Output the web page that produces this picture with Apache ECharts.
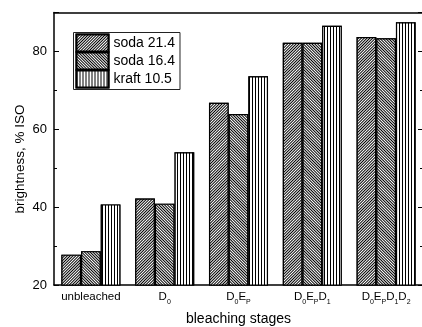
<!DOCTYPE html>
<html>
<head>
<meta charset="utf-8">
<script src="https://cdn.jsdelivr.net/npm/echarts@6/dist/echarts.min.js"></script>
<style>
  html, body { margin: 0; padding: 0; background: #fff; }
  #chart { width: 422px; height: 327px; }
</style>
</head>
<body>
<div id="chart"></div>
<script>
// Bleaching stages (underscore marks a subscript character)
const stages = ['unbleached', 'D_0', 'D_0E_P', 'D_0E_PD_1', 'D_0E_PD_1D_2'];
// Brightness, % ISO
const soda214 = [27.8, 42.2, 66.8, 82.2, 83.7];
const soda164 = [28.7, 40.9, 63.9, 82.2, 83.4];
const kraft105 = [40.7, 54.1, 73.6, 86.6, 87.5];
const seriesNames = ['soda 21.4', 'soda 16.4', 'kraft 10.5'];
const yTicks = [20, 40, 60, 80];

const FONT = '"Liberation Sans", Arial, sans-serif';

// turn "D_0E_P" into rich text: plain letters in {m|}, subscripts in {s|}
function stageLabel(s) {
  let out = '';
  let plain = '';
  for (let i = 0; i < s.length; i++) {
    if (s[i] === '_') {
      if (plain) { out += '{m|' + plain + '}'; plain = ''; }
      out += '{s|' + s[i + 1] + '}';
      i++;
    } else {
      plain += s[i];
    }
  }
  if (plain) out += '{m|' + plain + '}';
  return out;
}

const hatchUp = { color: '#000', backgroundColor: '#fff', symbol: 'rect', symbolSize: 1,
  dashArrayX: [1, 0], dashArrayY: [1, 1], rotation: -Math.PI / 4 };
const hatchDown = { color: '#000', backgroundColor: '#fff', symbol: 'rect', symbolSize: 1,
  dashArrayX: [1, 0], dashArrayY: [1, 1], rotation: Math.PI / 4 };
const hatchVert = { color: '#000', backgroundColor: '#fff', symbol: 'rect', symbolSize: 1,
  dashArrayX: [1, 2], dashArrayY: [1, 0], rotation: 0 };

function barSeries(name, data, decal) {
  return {
    name: name, type: 'bar', data: data,
    barGap: '0%', barCategoryGap: '20%',
    itemStyle: { color: '#fff', borderColor: '#000', borderWidth: 1.2, decal: decal },
    emphasis: { disabled: true },
    animation: false
  };
}

function yAxisCfg(pos, showLabels) {
  return {
    type: 'value', position: pos, min: 20, max: 90, interval: 20,
    axisLine: { show: true, lineStyle: { color: '#000', width: 1.5 } },
    axisTick: { show: true, inside: true, length: 5, lineStyle: { color: '#000', width: 1 } },
    minorTick: { show: true, splitNumber: 2, length: 3, lineStyle: { color: '#000', width: 1 } },
    splitLine: { show: false },
    axisLabel: {
      show: showLabels, customValues: yTicks, margin: 7,
      color: '#000', fontSize: 13, fontFamily: FONT
    }
  };
}

const chart = echarts.init(document.getElementById('chart'), null, { renderer: 'canvas' });
chart.setOption({
  backgroundColor: '#fff',
  animation: false,
  grid: {
    left: 54, top: 12.5, width: 369, height: 272.5,
    containLabel: false, outerBoundsMode: 'none'
  },
  legend: {
    orient: 'vertical', left: 73.5, top: 32.5,
    data: seriesNames, icon: 'rect',
    itemWidth: 32, itemHeight: 17, itemGap: -1,
    padding: [1, 5, 1, 2],
    backgroundColor: '#fff', borderColor: '#222', borderWidth: 1,
    textStyle: { color: '#000', fontSize: 14, lineHeight: 17, fontFamily: FONT },
    selectedMode: false
  },
  xAxis: [{
    type: 'category', data: stages, position: 'bottom',
    axisLine: { show: true, lineStyle: { color: '#000', width: 1.5 } },
    axisTick: { show: false },
    axisLabel: {
      interval: 0, margin: 5.5, formatter: (v) => stageLabel(v),
      rich: {
        m: { fontSize: 11.5, fontFamily: FONT, color: '#000', lineHeight: 14, verticalAlign: 'top' },
        s: { fontSize: 7, fontFamily: FONT, color: '#000', lineHeight: 15, verticalAlign: 'bottom' }
      }
    },
    name: 'bleaching stages', nameLocation: 'middle', nameGap: 27.5,
    nameTextStyle: { color: '#000', fontSize: 14, fontFamily: FONT }
  }, {
    type: 'category', data: stages, position: 'top',
    axisLine: { show: true, lineStyle: { color: '#000', width: 1.5 } },
    axisTick: { show: false }, axisLabel: { show: false }
  }],
  yAxis: [yAxisCfg('left', true), yAxisCfg('right', false)],
  graphic: [{
    type: 'text', x: 20, y: 159, rotation: Math.PI / 2,
    style: {
      text: 'brightness, % ISO', fill: '#000', fontSize: 13.5, fontFamily: FONT,
      align: 'center', verticalAlign: 'middle'
    }
  }],
  series: [
    barSeries(seriesNames[0], soda214, hatchUp),
    barSeries(seriesNames[1], soda164, hatchDown),
    barSeries(seriesNames[2], kraft105, hatchVert)
  ]
});
</script>
</body>
</html>
